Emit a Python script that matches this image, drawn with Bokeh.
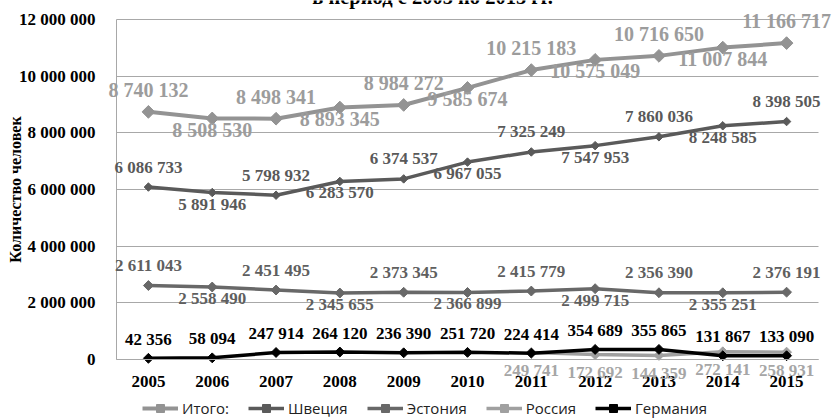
import math
from bokeh.plotting import figure
from bokeh.models import (ColumnDataSource, LabelSet, Label, Legend, LegendItem,
                          Range1d, CustomJSTickFormatter, FixedTicker)
from bokeh.embed import file_html
from bokeh.resources import INLINE
from bokeh.core.properties import value

# ---------------- data ----------------
years = ["2005", "2006", "2007", "2008", "2009", "2010",
         "2011", "2012", "2013", "2014", "2015"]
total = [8740132, 8508530, 8498341, 8893345, 8984272, 9585674,
         10215183, 10575049, 10716650, 11007844, 11166717]
sweden = [6086733, 5891946, 5798932, 6283570, 6374537, 6967055,
          7325249, 7547953, 7860036, 8248585, 8398505]
estonia = [2611043, 2558490, 2451495, 2345655, 2373345, 2366899,
           2415779, 2499715, 2356390, 2355251, 2376191]
russia = [None, None, None, None, None, None,
          249741, 172692, 144359, 272141, 258931]
germany = [42356, 58094, 247914, 264120, 236390, 251720,
           224414, 354689, 355865, 131867, 133090]
series_names = ["Итого:", "Швеция", "Эстония", "Россия", "Германия"]
y_ticks = [0, 2000000, 4000000, 6000000, 8000000, 10000000, 12000000]
title_text = "в период с 2005 по 2015 гг."
y_title = "Количество человек"

SERIF = "Liberation Serif"

# ---------------- layout (pixels) ----------------
W, H = 834, 420
PX_L, PX_R, PX_T, PX_B = 116, 818, 19, 359
n = len(years)
Y_MAX = y_ticks[-1]
xpp = (PX_R - PX_L) / n            # pixels per category
upp = Y_MAX / (PX_B - PX_T)        # data units per pixel (y)
x_range = Range1d(-PX_L / xpp, n + (W - PX_R) / xpp)
y_range = Range1d(-(H - PX_B) * upp, Y_MAX + PX_T * upp)

xs = [i + 0.5 for i in range(n)]   # category centres

p = figure(x_range=x_range, y_range=y_range, width=W, height=H,
           output_backend="svg", toolbar_location=None,
           min_border=0, min_border_left=0, min_border_right=0,
           min_border_top=0, min_border_bottom=0)
p.outline_line_color = None
p.background_fill_color = "white"
p.xgrid.visible = False
p.ygrid.ticker = FixedTicker(ticks=y_ticks)
p.ygrid.grid_line_color = "#a8a8a8"
p.ygrid.grid_line_width = 1
p.ygrid.cross_bounds = (0, n)

p.yaxis.ticker = FixedTicker(ticks=y_ticks)
p.yaxis.formatter = CustomJSTickFormatter(
    code="return tick.toFixed(0).replace(/\\B(?=(\\d{3})+(?!\\d))/g, ' ');")
p.xaxis.ticker = FixedTicker(ticks=xs)
p.xaxis.formatter = CustomJSTickFormatter(
    args=dict(labels=years),
    code="const i = Math.floor(tick); return (i >= 0 && i < labels.length) ? labels[i] : '';")
p.yaxis.fixed_location = 0
p.xaxis.fixed_location = 0
p.yaxis.bounds = (0, Y_MAX)
p.xaxis.bounds = (0, n)
for ax in (p.xaxis[0], p.yaxis[0]):
    ax.axis_line_color = "#a8a8a8"
    ax.axis_line_width = 1
    ax.major_tick_line_color = None
    ax.minor_tick_line_color = None
    ax.major_label_text_font = SERIF
    ax.major_label_text_font_style = "bold"
    ax.major_label_text_font_size = "17px"
    ax.major_label_text_color = "black"
p.yaxis.major_label_standoff = 15
p.xaxis.major_label_standoff = 10
p.yaxis.axis_label = y_title
p.yaxis.axis_label_text_font = SERIF
p.yaxis.axis_label_text_font_style = "bold"
p.yaxis.axis_label_text_font_size = "16px"
p.yaxis.axis_label_text_color = "black"
p.yaxis.axis_label_standoff = -8

styles = [
    # line color, marker size, line width, label color, label size, label mode
    ("#939393", 9, 4, "#9c9c9c", "20px", "alt"),
    ("#5a5a5a", 6, 3.5, "#595959", "17px", "alt"),
    ("#686868", 7, 3.5, "#5f5f5f", "17px", "alt"),
    ("#a0a0a0", 7, 3.5, "#a6a6a6", "17px", "below"),
    ("#000000", 7, 3.5, "#000000", "17px", "above"),
]
all_series = [total, sweden, estonia, russia, germany]
items = []
for k, (name, vals, (col, ms, lw, lcol, lfs, mode)) in enumerate(
        zip(series_names, all_series, styles)):
    ys = [float("nan") if v is None else v for v in vals]
    src = ColumnDataSource(dict(x=xs, y=ys))
    ln = p.line("x", "y", source=src, line_color=col, line_width=lw)
    sc = p.scatter("x", "y", source=src, marker="square", angle=math.pi / 4,
                   size=ms, fill_color=col, line_color=col)
    items.append(LegendItem(label=name, renderers=[ln, sc]))
    lx, ly, lt, lo = [], [], [], []
    for i, v in enumerate(vals):
        if v is None:
            continue
        lx.append(xs[i])
        ly.append(v)
        lt.append(f"{v:,}".replace(",", " "))
        if mode == "alt":
            up = 22 if k == 0 else 20
            lo.append(up if i % 2 == 0 else -11.5)
        elif mode == "above":
            lo.append(19)
        else:
            lo.append(-18)
    lsrc = ColumnDataSource(dict(x=lx, y=ly, text=lt, off=lo))
    p.add_layout(LabelSet(x="x", y="y", text="text", y_offset="off", source=lsrc,
                          text_font=value(SERIF), text_font_style="bold",
                          text_font_size=lfs, text_color=lcol,
                          text_align="center", text_baseline="middle"))

# chart title, cut by the top edge as in the source image
p.add_layout(Label(x=(432 - PX_L) / xpp, y=Y_MAX + (PX_T - 7) * upp,
                   text=title_text, text_font=SERIF,
                   text_font_style="bold", text_font_size="20.5px",
                   text_color="black", text_align="center",
                   text_baseline="bottom"))

legend = Legend(items=items, location=(142, 2), orientation="horizontal",
                glyph_width=36, glyph_height=20, label_height=20,
                label_standoff=4, spacing=19, padding=0, margin=0,
                border_line_color=None, background_fill_alpha=0,
                label_text_font="Open Sans", label_text_font_size="15px",
                label_text_color="#222222")
p.add_layout(legend)

open("out.html", "w").write(file_html(p, INLINE))
